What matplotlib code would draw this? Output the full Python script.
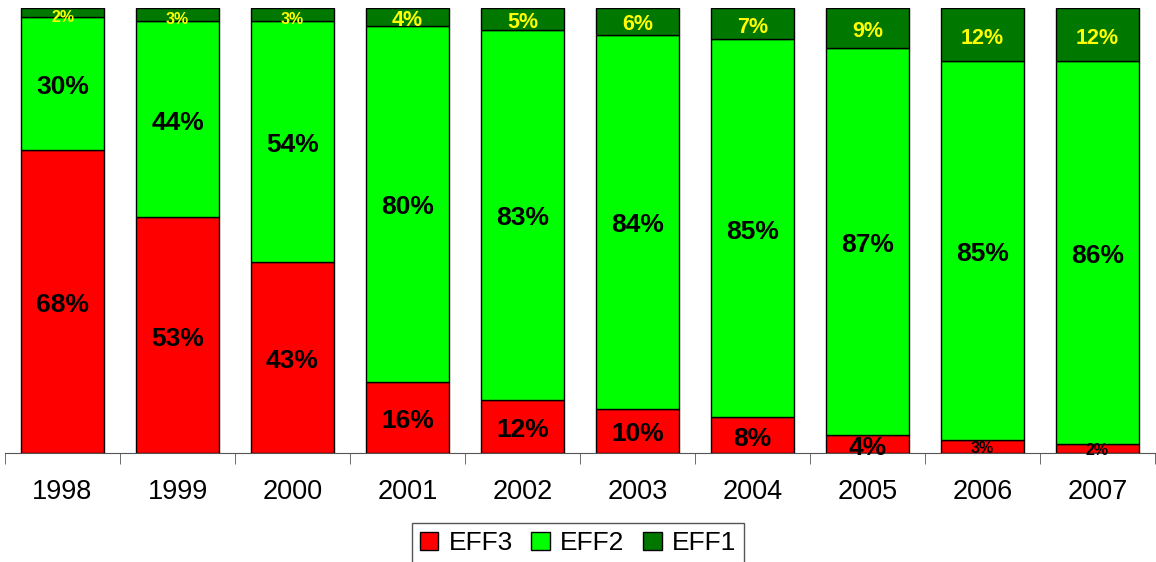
import numpy as np
import matplotlib
matplotlib.use('Agg')
import matplotlib.pyplot as plt
from matplotlib.patches import Patch

plt.rcParams['font.family'] = ['Liberation Sans', 'DejaVu Sans']

#shares per year (%)
years = ['1998', '1999', '2000', '2001', '2002', '2003', '2004', '2005', '2006', '2007']
eff3 = [68, 53, 43, 16, 12, 10, 8, 4, 3, 2]
eff2 = [30, 44, 54, 80, 83, 84, 85, 87, 85, 86]
eff1 = [2, 3, 3, 4, 5, 6, 7, 9, 12, 12]

c_eff3, c_eff2, c_eff1 = '#FF0000', '#00FF00', '#007800'

fig = plt.figure(figsize=(11.56, 5.62), dpi=100)
ax = fig.add_axes([5/1156, 109/562, 1150/1156, 445/562])

x = np.arange(len(years))
w = 0.72
ax.bar(x, eff3, w, color=c_eff3, edgecolor='black', linewidth=1)
ax.bar(x, eff2, w, bottom=eff3, color=c_eff2, edgecolor='black', linewidth=1)
bot1 = np.array(eff3) + np.array(eff2)
ax.bar(x, eff1, w, bottom=bot1, color=c_eff1, edgecolor='black', linewidth=1)


def seg_label(xc, yc, txt, fs, col, dy):
    #label centred in a segment, nudged down a little (points)
    ax.annotate(txt, (xc, yc), xytext=(0, dy), textcoords='offset points',
                ha='center', va='center', fontsize=fs, fontweight='bold', color=col)


for i in range(len(years)):
    if eff3[i] >= 4:
        seg_label(x[i], eff3[i]/2, '%d%%' % eff3[i], 19, 'black', -2.5)
    else:
        seg_label(x[i], eff3[i]/2, '%d%%' % eff3[i], 11.5, 'black', -1.5)
    seg_label(x[i], eff3[i] + eff2[i]/2, '%d%%' % eff2[i], 19, 'black', -2.5)
    if eff1[i] >= 4:
        seg_label(x[i], bot1[i] + eff1[i]/2, '%d%%' % eff1[i], 15.5, '#FFFF00', -2.5)
    else:
        seg_label(x[i], bot1[i] + eff1[i]/2, '%d%%' % eff1[i], 11.5, '#FFFF00', -3.5)

ax.set_xlim(-0.5, len(years) - 0.5)
ax.set_ylim(0, 100)
for s in ['left', 'top', 'right']:
    ax.spines[s].set_visible(False)
ax.spines['bottom'].set_color('#555555')
ax.set_yticks([])
ax.set_xticks(x)
ax.set_xticklabels(years, fontsize=19.5)
ax.tick_params(axis='x', which='major', length=0, pad=19)
ax.set_xticks(np.arange(-0.5, len(years)), minor=True)
ax.tick_params(axis='x', which='minor', length=8, color='#555555', direction='out')

handles = [Patch(facecolor=c_eff3, edgecolor='black', label='EFF3'),
           Patch(facecolor=c_eff2, edgecolor='black', label='EFF2'),
           Patch(facecolor=c_eff1, edgecolor='black', label='EFF1')]
leg = fig.legend(handles=handles, loc='center', bbox_to_anchor=(0.5, 1 - 543/562),
                 ncol=3, fontsize=19, handlelength=0.7, handleheight=0.7,
                 handletextpad=0.4, columnspacing=0.7, borderpad=0.3,
                 fancybox=False, edgecolor='#555555', framealpha=1)
leg.get_frame().set_linewidth(1)

fig.savefig('out.png', dpi=100)
